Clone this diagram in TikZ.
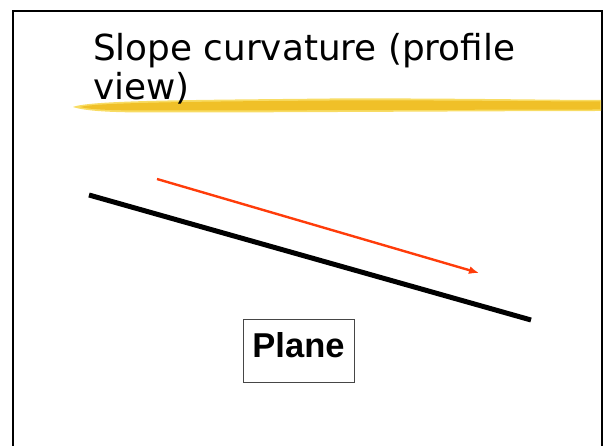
\documentclass[tikz,border=0pt]{standalone}
\usepackage{fontspec}
\newfontfamily\titlefont{DejaVu Sans}
\newfontfamily\labelfont{Liberation Sans}
\definecolor{hlyellow}{RGB}{240,192,40}
\definecolor{hllight}{RGB}{248,220,100}
\definecolor{arrowred}{RGB}{255,60,10}
\definecolor{boxgray}{RGB}{70,70,70}
\tikzset{
  frameline/.style={line width=2.2pt, black},
  titletext/.style={font=\titlefont\fontsize{35.8}{40}\selectfont, inner sep=0pt, anchor=base west},
  slopeline/.style={line width=5pt, black},
  flowarrow/.style={line width=2.4pt, arrowred, -{Latex[length=10pt,width=8pt]}},
  planebox/.style={draw=boxgray, line width=0.9pt, minimum width=111pt, minimum height=63pt, inner sep=0pt,
    font=\labelfont\bfseries\fontsize{34.5}{40}\selectfont, text height=25pt, text depth=12pt}
}
\usetikzlibrary{arrows.meta}
\begin{document}
\begin{tikzpicture}[x=1pt,y=-1pt]
\useasboundingbox (0,0) rectangle (604,446);
% slide frame
\coordinate (fbl) at (13,450);
\coordinate (ftl) at (13,11);
\coordinate (ftr) at (602,11);
\coordinate (fbr) at (602,450);
\draw[frameline] (fbl) -- (ftl) -- (ftr) -- (fbr);
% highlighter stroke
\fill[hllight] (73,107) .. controls (90,100) and (200,100) .. (330,98.5) .. controls (450,98) and (550,100) .. (601,100)
  -- (601,111) .. controls (500,111) and (300,112.5) .. (150,112.5) .. controls (110,112.5) and (85,111) .. cycle;
\fill[hlyellow] (80,107) .. controls (95,102.5) and (200,101.5) .. (330,100.5) .. controls (450,100) and (550,101.5) .. (600,101.5)
  -- (600,109.5) .. controls (500,109.5) and (300,110.5) .. (150,110.5) .. controls (110,110.5) and (90,109.5) .. cycle;
% title
\node[titletext] (title1) at (93,61) {Slope curvature (profile};
\node[titletext] (title2) at (93,100) {view)};
% slope line
\coordinate (sA) at (89,195);
\coordinate (sB) at (531,320);
\draw[slopeline] (sA) -- (sB);
% flow arrow
\coordinate (aA) at (157,179);
\coordinate (aB) at (479,273);
\draw[flowarrow] (aA) -- (aB);
% label box
\node[planebox] (plane) at (298.5,350.5) {Plane};
\end{tikzpicture}
\end{document}
